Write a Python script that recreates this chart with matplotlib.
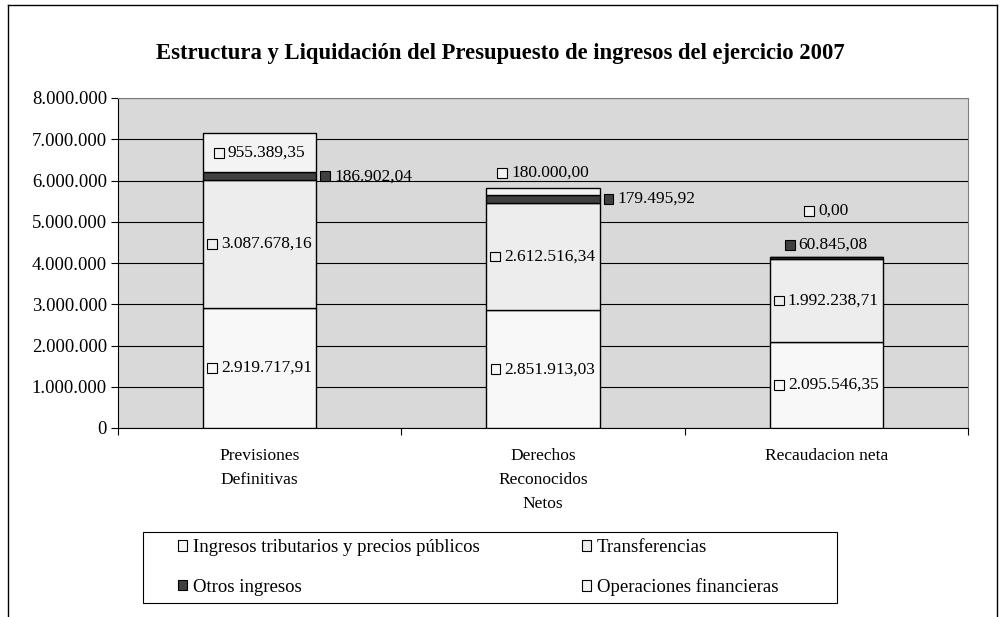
import matplotlib
matplotlib.use("Agg")
import matplotlib.pyplot as plt
from matplotlib.patches import Rectangle
from matplotlib.lines import Line2D
from matplotlib.offsetbox import AnnotationBbox, HPacker, DrawingArea, TextArea

plt.rcParams['font.family'] = ['Liberation Serif', 'DejaVu Serif']

# datos
categorias = ["Previsiones\nDefinitivas", "Derechos\nReconocidos\nNetos", "Recaudacion neta"]
series = ["Ingresos tributarios y precios públicos", "Transferencias",
          "Otros ingresos", "Operaciones financieras"]
ingresos_trib = [2919717.91, 2851913.03, 2095546.35]
transferencias = [3087678.16, 2612516.34, 1992238.71]
otros = [186902.04, 179495.92, 60845.08]
op_financieras = [955389.35, 180000.00, 0.00]
yticks = [0, 1000000, 2000000, 3000000, 4000000, 5000000, 6000000, 7000000, 8000000]

colores = ["#f8f8f8", "#ededed", "#404040", "#f3f3f3"]


def fmt_es(v, dec=2):
    s = f"{v:,.{dec}f}"
    return s.replace(",", "X").replace(".", ",").replace("X", ".")


fig = plt.figure(figsize=(10.01, 6.17), dpi=100)
ax = fig.add_axes([118/1001, 1-428/617, 850/1001, 330/617])
ax.set_facecolor("#d9d9d9")

valores = [ingresos_trib, transferencias, otros, op_financieras]
x = list(range(len(categorias)))
base = [0.0] * len(categorias)
ancho = 0.4
bases = []
for vals, col, nom in zip(valores, colores, series):
    ax.bar(x, vals, ancho, bottom=base, color=col, edgecolor="black",
           linewidth=1.0, label=nom, zorder=3)
    bases.append(list(base))
    base = [b + v for b, v in zip(base, vals)]
totales = base


def etiqueta(xy, texto, color, align, offset):
    da = DrawingArea(7, 7, 0, 0)
    da.add_artist(Rectangle((0, 0), 7, 7, facecolor=color, edgecolor="black", linewidth=0.8))
    ta = TextArea(texto, textprops=dict(fontsize=12.5))
    box = HPacker(children=[da, ta], align="center", pad=0, sep=3)
    ab = AnnotationBbox(box, xy, xybox=offset, boxcoords="offset points",
                        box_alignment=align, frameon=False, zorder=5)
    ax.add_artist(ab)


px = 0.72  # pixels -> points
for i in x:
    # ingresos y transferencias centrados
    for s in (0, 1):
        yc = bases[s][i] + valores[s][i] / 2
        etiqueta((i, yc), fmt_es(valores[s][i]), colores[s], (0.5, 0.5), (0, 0))

# otros ingresos
for i in (0, 1):
    yc = bases[2][i] + otros[i] / 2
    etiqueta((i + ancho/2, yc), fmt_es(otros[i]), colores[2], (0, 0.5), (4*px, 0))
etiqueta((2, totales[2]), fmt_es(otros[2]), colores[2], (0.5, 0.5), (0, 12*px))

# operaciones financieras
yc = bases[3][0] + op_financieras[0] / 2
etiqueta((0, yc), fmt_es(op_financieras[0]), colores[3], (0.5, 0.5), (0, 0))
etiqueta((1, totales[1]), fmt_es(op_financieras[1]), colores[3], (0.5, 0.5), (0, 15*px))
etiqueta((2, totales[2]), fmt_es(op_financieras[2]), colores[3], (0.5, 0.5), (0, 46*px))

ax.set_xlim(-0.5, 2.5)
ax.set_ylim(0, 8000000)
ax.set_yticks(yticks)
ax.set_yticklabels([fmt_es(t, 0) for t in yticks], fontsize=13.5)
ax.tick_params(axis="y", length=5, width=0.8, pad=3)
ax.grid(axis="y", color="black", linewidth=0.8, zorder=1)
ax.set_axisbelow(True)

ax.set_xticks([-0.5, 0.5, 1.5, 2.5])
ax.set_xticklabels([])
ax.tick_params(axis="x", which="major", length=5, width=0.8)
ax.set_xticks(x, minor=True)
ax.set_xticklabels(categorias, minor=True, fontsize=12.5, linespacing=1.65, va="top")
ax.tick_params(axis="x", which="minor", length=0, pad=14.5)

for sp in ("top", "right"):
    ax.spines[sp].set_color("#808080")
for sp in ("left", "bottom"):
    ax.spines[sp].set_color("black")
    ax.spines[sp].set_linewidth(0.8)

fig.text(0.5, 1-53/617, "Estructura y Liquidación del Presupuesto de ingresos del ejercicio 2007",
         ha="center", va="center", fontsize=16.3, fontweight="bold")

# leyenda
handles = [Rectangle((0, 0), 1, 1, facecolor=c, edgecolor="black", linewidth=0.8) for c in colores]
orden = [0, 2, 1, 3]
leg = fig.legend([handles[k] for k in orden], [series[k] for k in orden],
                 loc="upper left", bbox_to_anchor=(178/1001, 1-539/617),
                 ncol=2, fontsize=13.5, frameon=False,
                 handlelength=0.5, handleheight=0.5, handletextpad=0.3,
                 labelspacing=1.2, columnspacing=5.45, borderpad=0, borderaxespad=0)
fig.add_artist(Rectangle((143/1001, 14/617), 694/1001, 71/617, transform=fig.transFigure,
                         facecolor="none", edgecolor="black", linewidth=0.8))

# borde exterior
for xs, ys in (([8/1001, 8/1001], [0, 1-5/617]),
               ([8/1001, 997/1001], [1-5/617, 1-5/617]),
               ([997/1001, 997/1001], [1-5/617, 0])):
    fig.add_artist(Line2D(xs, ys, color="black", linewidth=1.0))

fig.savefig("out.png", dpi=100)
